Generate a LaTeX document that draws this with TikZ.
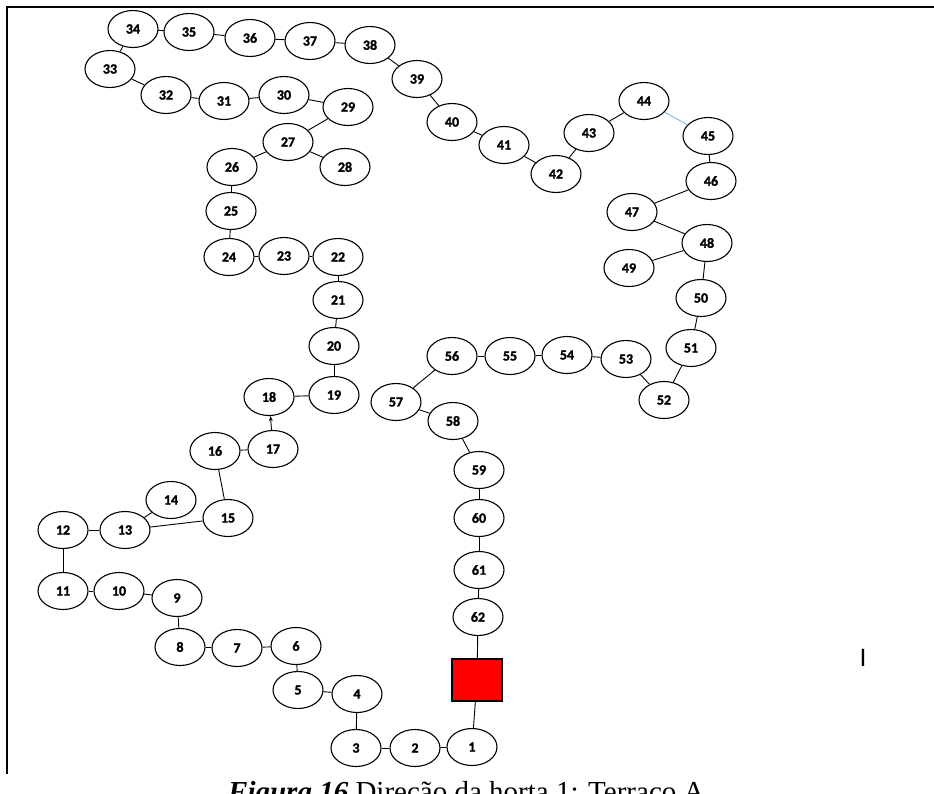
\documentclass[tikz,border=0pt]{standalone}
\usepackage{fontspec}
\setmainfont{Liberation Serif}
\setsansfont{Liberation Sans}
\newfontfamily\stopfont{Carlito}[BoldFeatures={FakeBold=1.6}]
\usepackage{xcolor}
\usetikzlibrary{arrows.meta,shapes.geometric}
\definecolor{cOut}{HTML}{000000}
\definecolor{cBlue}{HTML}{86B4E0}
\definecolor{cGate}{HTML}{FF0000}
\tikzset{
  fig/stop/.style ={draw=cOut, ellipse, line width=1.1pt, fill=white,
                    minimum width=50pt, minimum height=37pt, inner sep=0pt,
                    font=\stopfont\bfseries\fontsize{14}{14}\selectfont},
  fig/gate/.style ={draw=cOut, line width=1.1pt, fill=cGate,
                    minimum width=50pt, minimum height=42pt},
  fig/link/.style ={cOut, line width=0.9pt},
  fig/linkb/.style={cBlue, line width=0.9pt},
  fig/arr/.style  ={cOut, line width=0.9pt, -{Stealth[length=5pt, width=4pt]}},
  fig/frame/.style={cOut, line width=2pt},
  fig/caption/.style={font=\fontsize{29}{31}\selectfont, anchor=base west, inner sep=0pt}
}

\begin{document}
\begin{tikzpicture}[x=1pt, y=-1pt]
  \useasboundingbox (0,0) rectangle (934,793);
  \clip (0,0) rectangle (934,793);
  % page frame
  \draw[fig/frame] (7,774) -- (7,7) -- (940,7);
  % the stops along the route
  \foreach \i/\x/\y in {1/472/747, 2/415/748, 3/356/748, 4/357/694, 5/298/690,
      6/296/646, 7/237/648, 8/180/647, 9/177/598, 10/119/591, 11/63/591,
      12/63/530, 13/125/530, 14/171/500, 15/228/518, 16/215/451, 17/273/449,
      18/269/397, 19/334/395, 20/334/346, 21/338/300, 22/338/257, 23/284/256,
      24/229/257, 25/231/211, 26/232/167, 27/288/142, 28/345/167, 29/348/107,
      30/284/95, 31/224/101, 32/166/95, 33/110/69, 34/133/29, 35/189/32,
      36/250/38, 37/310/41, 38/370/45, 39/417/79, 40/452/122, 41/504/145,
      42/556/174, 43/589/133, 44/644/101, 45/708/136, 46/711/181, 47/632/212,
      48/707/243, 49/629/268, 50/701/298, 51/691/348, 52/664/400, 53/626/359,
      54/567/355, 55/510/356, 56/452/356, 57/396/402, 58/453/421, 59/479/470,
      60/479/518, 61/479/570, 62/478/617} {
    \node[fig/stop] (s\i) at (\x,\y) {\i};
  }
  \node[fig/gate] (gate) at (477,680) {};

  % connectors
  \foreach \a/\b in {1/2, 2/3, 3/4, 4/5, 5/6, 6/7, 7/8, 8/9, 9/10, 10/11,
      11/12, 12/13, 13/14, 13/15, 15/16, 16/17, 18/19, 19/20, 20/21, 21/22,
      22/23, 23/24, 24/25, 25/26, 26/27, 27/28, 27/29, 29/30, 30/31, 31/32,
      32/33, 33/34, 34/35, 35/36, 36/37, 37/38, 38/39, 39/40, 40/41, 41/42,
      42/43, 43/44, 45/46, 46/47, 47/48, 48/49, 48/50, 50/51, 51/52, 52/53,
      53/54, 54/55, 55/56, 56/57, 57/58, 58/59, 59/60, 60/61, 61/62} {
    \draw[fig/link] (s\a) -- (s\b);
  }
  \draw[fig/linkb] (s44) -- (s45);
  \draw[fig/arr] (s17) -- (s18);
  \draw[fig/link] (s62) -- (gate);
  \draw[fig/link] (gate) -- (s1);

  % stray mark
  \node[font=\sffamily\fontsize{25}{25}\selectfont, inner sep=0pt] (mark) at (863,658) {I};

  % caption, cut by the page edge
  \node[fig/caption] (cap) at (228,801)
    {\textbf{\textit{Figura 16}} Direção da horta 1: Terraço A};
\end{tikzpicture}
\end{document}
